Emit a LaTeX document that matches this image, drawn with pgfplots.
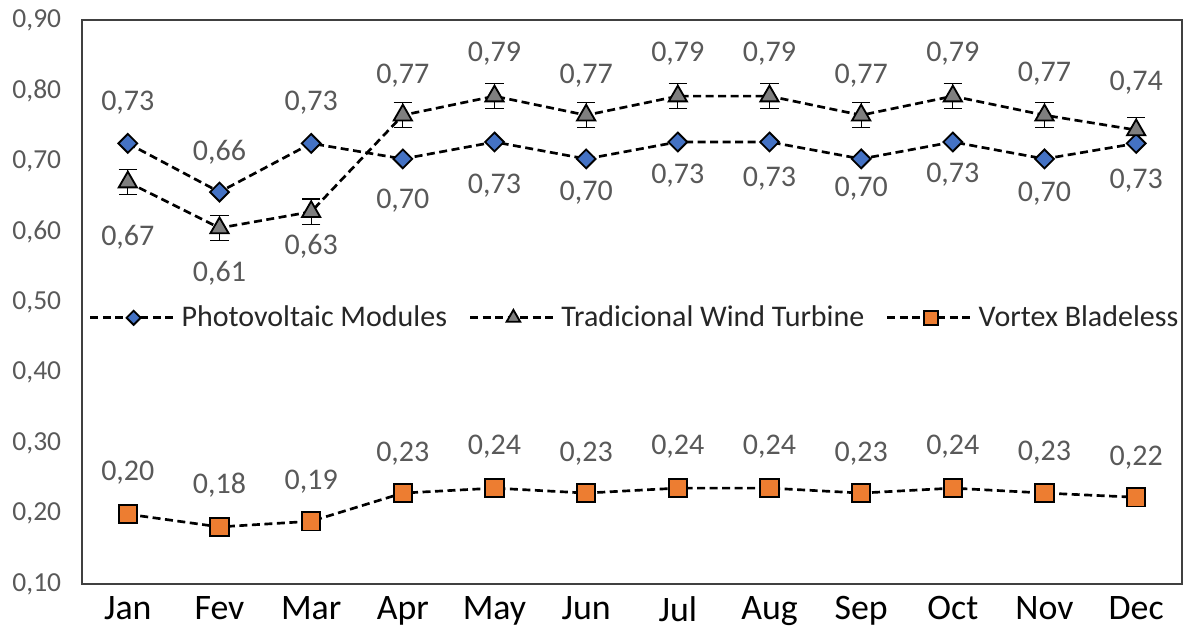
\documentclass[border=0pt]{standalone}
\usepackage{pgfplots}
\usepackage{pgfplotstable}
\pgfplotsset{compat=1.18}
\usepackage{fontspec}
\setmainfont{Carlito}

\definecolor{pvblue}{HTML}{4472C4}
\definecolor{wtgray}{HTML}{7F7F7F}
\definecolor{vborange}{HTML}{ED7D31}
\definecolor{lblgray}{HTML}{595959}
\definecolor{axgray}{HTML}{404040}

% month index, value, label, label offset (pt)
\pgfplotstableread{
x  y      lab   off
0  0.725  0,73  24.6
1  0.656  0,66  24.0
2  0.725  0,73  24.6
3  0.703  0,70  -25.2
4  0.727  0,73  -26.4
5  0.703  0,70  -20.4
6  0.727  0,73  -20.4
7  0.727  0,73  -22.2
8  0.703  0,70  -18.0
9  0.727  0,73  -19.8
10 0.703  0,70  -21.0
11 0.725  0,73  -22.2
}\pvdata

\pgfplotstableread{
x  y      err    lab   off
0  0.670  0.018  0,67  -33.0
1  0.605  0.018  0,61  -27.0
2  0.628  0.018  0,63  -21.0
3  0.765  0.018  0,77  24.0
4  0.792  0.018  0,79  25.2
5  0.765  0.018  0,77  24.0
6  0.792  0.018  0,79  25.2
7  0.792  0.018  0,79  25.2
8  0.765  0.018  0,77  24.0
9  0.792  0.018  0,79  25.2
10 0.765  0.018  0,77  25.2
11 0.744  0.018  0,74  28.2
}\wtdata

\pgfplotstableread{
x  y      lab   off
0  0.199  0,20  25.2
1  0.181  0,18  25.2
2  0.189  0,19  24.0
3  0.229  0,23  23.4
4  0.236  0,24  24.6
5  0.229  0,23  23.4
6  0.236  0,24  24.6
7  0.236  0,24  24.6
8  0.229  0,23  23.4
9  0.236  0,24  24.6
10 0.229  0,23  24.0
11 0.223  0,22  24.0
}\vbdata

\begin{document}
\begin{tikzpicture}
\begin{axis}[
    at={(0pt,0pt)}, anchor=south west,
    width=660pt, height=338.4pt,
    scale only axis,
    clip=false,
    xmin=-0.5, xmax=11.5,
    ymin=0.1, ymax=0.9,
    xtick={0,1,2,3,4,5,6,7,8,9,10,11},
    xticklabels={Jan,Fev,Mar,Apr,May,Jun,Jul,Aug,Sep,Oct,Nov,Dec},
    ytick={0.1,0.2,0.3,0.4,0.5,0.6,0.7,0.8,0.9},
    /pgf/number format/assume math mode=true,
    yticklabel style={/pgf/number format/fixed, /pgf/number format/fixed zerofill,
        /pgf/number format/precision=2, /pgf/number format/use comma,
        font=\fontsize{16.5}{19}\selectfont, text=lblgray, xshift=-9pt},
    major tick length=0pt,
    axis line style={draw=axgray, line width=0.9pt},
    xticklabel style={font=\fontsize{21.5}{25}\selectfont, text=black, yshift=-4pt},
    legend columns=3,
    legend style={at={(0.503,0.472)}, anchor=center, draw=none, fill=none,
        font=\fontsize{18}{21}\selectfont, text=black!85,
        /tikz/every even column/.append style={column sep=11pt}},
    legend image code/.code={
        \draw[mark repeat=2, mark phase=2, #1, /tikz/every mark/.append style={scale=0.75}]
        plot coordinates {(0pt,0pt) (26pt,0pt) (52pt,0pt)};},
    every axis plot/.append style={black, line width=1.6pt, dash pattern=on 4.8pt off 2.7pt},
    nodes near coords,
    point meta=explicit symbolic,
    every node near coord/.append style={anchor=center, text=lblgray,
        font=\fontsize{18}{21}\selectfont, yshift=\myoff pt},
]

\addplot[mark=square*, mark size=4pt,
    mark options={solid, rotate=45, fill=pvblue, draw=black, line width=1.1pt},
    visualization depends on={\thisrow{off} \as \myoff}]
    table[x=x, y=y, meta=lab] {\pvdata};
\addlegendentry{Photovoltaic Modules}

\addplot[mark=triangle*, mark size=6.3pt,
    mark options={solid, fill=wtgray, draw=black, line width=1.1pt},
    visualization depends on={\thisrow{off} \as \myoff},
    error bars/.cd, y dir=both, y explicit,
    error bar style={solid, black, line width=0.7pt},
    error mark options={rotate=90, mark size=5.5pt, solid, line width=0.7pt}]
    table[x=x, y=y, y error=err, meta=lab] {\wtdata};
\addlegendentry{Tradicional Wind Turbine}

\addplot[mark=square*, mark size=5.5pt,
    mark options={solid, fill=vborange, draw=black, line width=1.1pt},
    visualization depends on={\thisrow{off} \as \myoff}]
    table[x=x, y=y, meta=lab] {\vbdata};
\addlegendentry{Vortex Bladeless}

\end{axis}
\pgfresetboundingbox
\useasboundingbox (-49.2pt,-30.6pt) rectangle (661.2pt,350.4pt);
\end{tikzpicture}
\end{document}
